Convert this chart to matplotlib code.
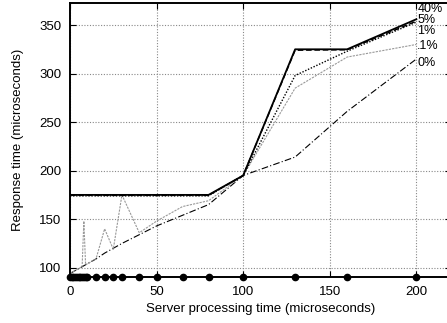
import matplotlib
matplotlib.use("Agg")
import matplotlib.pyplot as plt

plt.rcParams['font.family'] = ['Liberation Sans', 'DejaVu Sans']

x = [0, 1, 2, 3, 4, 5, 6, 7, 8, 9, 10, 15, 20, 25, 30, 40, 50, 65, 80, 100, 130, 160, 200]
r40 = [175, 175, 175, 175, 175, 175, 175, 175, 175, 175, 175, 175, 175, 175, 175, 175, 175, 175, 175, 195, 325, 325, 356]
r5 = [174.5, 174.5, 174.5, 174.5, 174.5, 174.5, 174.5, 174.5, 174.5, 174.5, 174.5, 174.5, 174.5, 174.5, 174.5, 174.5, 174.5, 174.5, 174.5, 195, 324, 324.5, 354]
r1 = [174, 174, 174, 174, 174, 174, 174, 174, 174, 174, 174, 174, 174, 174, 174, 174, 174, 174, 174, 195, 298, 323, 353]
r01 = [94, 95, 96, 97, 98, 99, 100, 101, 148, 103, 104, 109, 140, 119, 175, 136, 148, 163, 169, 195, 285, 317, 330]
r0 = [94, 95, 96, 97, 98, 99, 100, 101, 102, 103, 104, 109, 115, 120, 125, 134, 143, 154, 165, 195, 214, 261, 315]

labels = ["40%", "5%", "1%", ".1%", "0%"]
label_y = [367, 355.3, 343.6, 328, 311]
xticks = [0, 50, 100, 150, 200]
yticks = [100, 150, 200, 250, 300, 350]

fig = plt.figure(figsize=(4.47, 3.23), dpi=100)
ax = fig.add_axes([70 / 447, 0.1412, 381 / 447, 0.8504])
ax.set_xlim(0, 220)
ax.set_ylim(90, 373)

ax.grid(True, color='#888888', linestyle=(0, (1, 1.5)), linewidth=0.8)
ax.set_axisbelow(True)

ax.plot(x, r0, color='black', linestyle=(0, (6, 2, 1, 2)), linewidth=0.8)
ax.plot(x, r01, color='#999999', linestyle=(0, (2, 1)), linewidth=0.8)
ax.plot(x, r1, color='black', linestyle=(0, (1, 1.2)), linewidth=1.0)
ax.plot(x, r5, color='black', linestyle=(0, (4, 2)), linewidth=1.0)
ax.plot(x, r40, color='black', linestyle='-', linewidth=1.3)

ax.plot(x, [90] * len(x), color='black', linestyle='none', marker='o',
        markersize=4.5, clip_on=False, zorder=5)

for lab, ly in zip(labels, label_y):
    ax.text(200.5, ly, lab, fontsize=9, ha='left', va='center')

ax.set_xticks(xticks)
ax.set_yticks(yticks)
ax.tick_params(direction='in', length=4, width=0.8, labelsize=9.5, pad=6,
               top=True, right=True)
for s in ['top', 'bottom', 'left']:
    ax.spines[s].set_linewidth(1.4)
ax.spines['right'].set_visible(False)

ax.set_xlabel("Server processing time (microseconds)", fontsize=9.5, labelpad=4)
ax.set_ylabel("Response time (microseconds)", fontsize=9.5, labelpad=11)

fig.savefig("out.png", dpi=100)
